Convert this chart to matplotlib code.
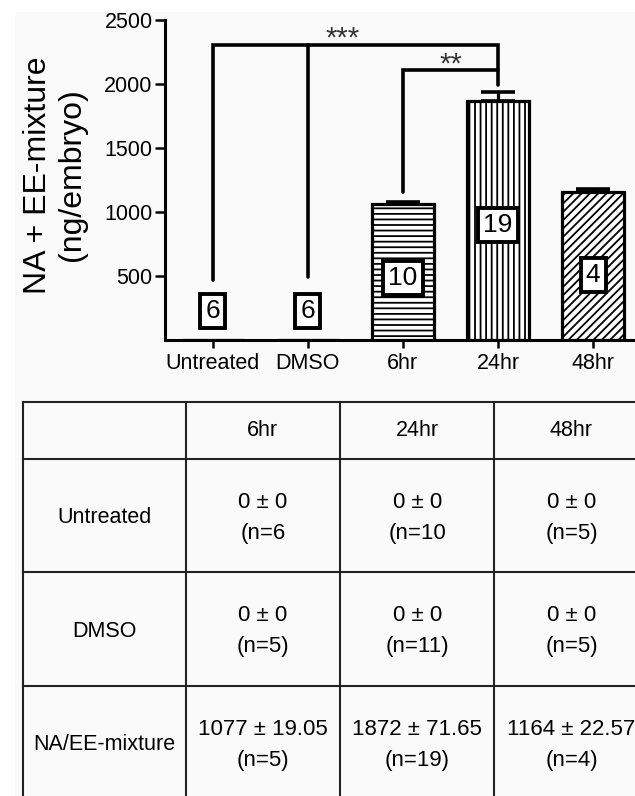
import matplotlib
matplotlib.use("Agg")
import matplotlib.pyplot as plt
from matplotlib import font_manager
from matplotlib.patches import Rectangle

# chart data
groups = ["Untreated", "DMSO", "6hr", "24hr", "48hr"]
means = [0, 0, 1060, 1865, 1155]
errors = [0, 0, 15, 72, 22]
n_counts = ["6", "6", "10", "19", "4"]
n_label_y = [225, 225, 484, 898, 508]
hatches = ["", "", "---", "|||", "////"]

# table data
table_cols = ["6hr", "24hr", "48hr"]
table_rows = ["Untreated", "DMSO", "NA/EE-mixture"]
table_cells = [
    ["0 \u00b1 0\n(n=6", "0 \u00b1 0\n(n=10", "0 \u00b1 0\n(n=5)"],
    ["0 \u00b1 0\n(n=5)", "0 \u00b1 0\n(n=11)", "0 \u00b1 0\n(n=5)"],
    ["1077 \u00b1 19.05\n(n=5)", "1872 \u00b1 71.65\n(n=19)", "1164 \u00b1 22.57\n(n=4)"],
]

names = {f.name for f in font_manager.fontManager.ttflist}
narrow = "Liberation Sans Narrow" in names
label_font = "Liberation Sans Narrow" if narrow else "Liberation Sans"
label_size = 27.5 if narrow else 23

plt.rcParams["font.family"] = ["Liberation Sans", "DejaVu Sans"]
plt.rcParams["hatch.linewidth"] = 1.3

W, H = 635, 796
fig = plt.figure(figsize=(W / 100, H / 100), dpi=100, facecolor="white")
fig.patches.append(Rectangle((15 / W, 0), 1, 1 - 12 / H, transform=fig.transFigure,
                             facecolor="#fafafa", edgecolor="none", zorder=-10))

# bar chart axes (pixel based placement)
x0_px, step_px = 212.7, 95.1
xl, xr = -0.5, 4.6
ax = fig.add_axes([(x0_px + xl * step_px) / W, (H - 340) / H,
                   (xr - xl) * step_px / W, 320 / H])
ax.set_facecolor("none")
xs = list(range(len(groups)))
bars = ax.bar(xs, means, width=0.65, color="white", edgecolor="black", linewidth=2.3,
              zorder=2)
for bar, h in zip(bars, hatches):
    bar.set_hatch(h)
lower = [0] * len(errors)
ax.errorbar(xs[2:], means[2:], yerr=[lower[2:], errors[2:]], fmt="none", ecolor="black",
            elinewidth=2.3, capsize=12, capthick=2.6, zorder=3)

for x, y, s in zip(xs, n_label_y, n_counts):
    ax.text(x, y, s, ha="center", va="center", fontsize=19, zorder=5,
            bbox=dict(boxstyle="square,pad=0.2", facecolor="white", edgecolor="black",
                      linewidth=2.8))

# significance brackets
lw = 2.6
ax.plot([0, 0, 3, 3], [469, 2305, 2305, 1992], color="black", lw=lw,
        solid_capstyle="round", solid_joinstyle="miter", zorder=4)
ax.plot([1, 1], [490, 2305], color="black", lw=lw, solid_capstyle="round", zorder=4)
ax.plot([2, 2, 3], [1158, 2109, 2109], color="black", lw=lw, solid_capstyle="round",
        solid_joinstyle="miter", zorder=4)
ax.annotate("***", (1.36, 2305), xytext=(0, -1.5), textcoords="offset points",
            ha="center", va="baseline", fontsize=21, color="#333333")
ax.annotate("**", (2.5, 2109), xytext=(0, -1.5), textcoords="offset points",
            ha="center", va="baseline", fontsize=21, color="#333333")

ax.set_xlim(xl, xr)
ax.set_ylim(0, 2500)
ax.set_yticks([500, 1000, 1500, 2000, 2500])
ax.set_xticks(xs)
ax.set_xticklabels(groups, fontsize=15.5)
ax.tick_params(axis="y", labelsize=15.5, length=7, width=1.8, pad=2)
ax.tick_params(axis="x", length=6, width=1.8, pad=3.5)
for side in ("top", "right"):
    ax.spines[side].set_visible(False)
for side in ("left", "bottom"):
    ax.spines[side].set_linewidth(2.2)

fig.text(55 / W, (H - 175) / H, "NA + EE-mixture\n(ng/embryo)", rotation=90,
         ha="center", va="center", fontsize=label_size, family=label_font,
         linespacing=1.2)

# table drawn in pixel coordinates
tx = fig.add_axes([0, 0, 1, 1])
tx.set_xlim(0, W)
tx.set_ylim(H, 0)
tx.axis("off")
col_edges = [22.7, 185.7, 340.0, 494.3, 648.6]
row_edges = [402.3, 459.3, 572.3, 686.0, 800.0]
line_kw = dict(color="#222222", lw=1.5)
for y in row_edges:
    tx.plot([col_edges[0], col_edges[-1]], [y, y], **line_kw)
for x in col_edges:
    tx.plot([x, x], [row_edges[0], row_edges[-1]], **line_kw)

for j, name in enumerate(table_cols):
    cx = (col_edges[j + 1] + col_edges[j + 2]) / 2
    tx.text(cx, (row_edges[0] + row_edges[1]) / 2, name, ha="center", va="center",
            fontsize=15.5)
for i, name in enumerate(table_rows):
    cy = (row_edges[i + 1] + row_edges[i + 2]) / 2 + 2
    tx.text((col_edges[0] + col_edges[1]) / 2, cy, name, ha="center", va="center",
            fontsize=15.5)
    for j, cell in enumerate(table_cells[i]):
        cx = (col_edges[j + 1] + col_edges[j + 2]) / 2
        tx.text(cx, cy, cell, ha="center", va="center", fontsize=16, linespacing=1.6,
                multialignment="center")

fig.savefig("out.png", dpi=100, facecolor=fig.get_facecolor())
